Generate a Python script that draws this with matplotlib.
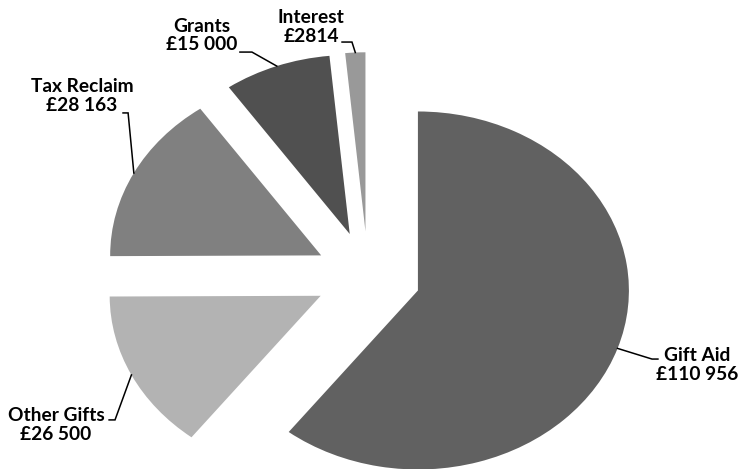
import numpy as np
import matplotlib
matplotlib.use('Agg')
import matplotlib.pyplot as plt

# income sources, in drawing order (clockwise from 12 o'clock)
sources = ['Gift Aid', 'Other Gifts', 'Tax Reclaim', 'Grants', 'Interest']
amounts = [110956, 26500, 28163, 15000, 2814]
amount_labels = ['£110 956', '£26 500', '£28 163', '£15 000', '£2814']
colors = ['#616161', '#b3b3b3', '#808080', '#505050', '#999999']

# label block centres and leader start/elbow (data units, pie radius = 1)
label_pos = [(1.559, -0.497), (-1.479, -0.832), (-1.355, 1.006), (-0.787, 1.344), (-0.270, 1.391)]
leader_start = [(1.374, -0.464), (-1.227, -0.804), (-1.161, 0.911), (-0.607, 1.251), (-0.123, 1.307)]
leader_elbow = [(1.346, -0.464), (-1.199, -0.804), (-1.137, 0.911), (-0.550, 1.251), (-0.076, 1.307)]

W, H = 744, 469
fig = plt.figure(figsize=(W / 100, H / 100), dpi=100)
ax = fig.add_axes([0, 0, 1, 1])

wedges, _ = ax.pie(amounts, colors=colors, startangle=90, counterclock=False,
                   explode=[0.25] * len(amounts), wedgeprops=dict(linewidth=0))

# stretched pie: centre at (368, 276) px, radius 211 px across, 179 px down
cx, cy, rx, ry = 368, 276, 211, 179
ax.set_aspect('auto')
ax.set_xlim(-cx / rx, (W - cx) / rx)
ax.set_ylim(-(H - cy) / ry, cy / ry)
ax.axis('off')

for i, w in enumerate(wedges):
    mid = np.deg2rad((w.theta1 + w.theta2) / 2)
    ax_pt = (w.center[0] + w.r * np.cos(mid), w.center[1] + w.r * np.sin(mid))
    xs = [leader_start[i][0], leader_elbow[i][0], ax_pt[0]]
    ys = [leader_start[i][1], leader_elbow[i][1], ax_pt[1]]
    ax.plot(xs, ys, color='black', lw=1.1, solid_joinstyle='miter')
    ax.text(label_pos[i][0], label_pos[i][1], sources[i] + '\n' + amount_labels[i],
            ha='center', va='center', multialignment='center',
            fontsize=13.8, fontweight='bold', family=['Lato', 'DejaVu Sans'],
            linespacing=1.12)

fig.savefig('out.png', dpi=100)
